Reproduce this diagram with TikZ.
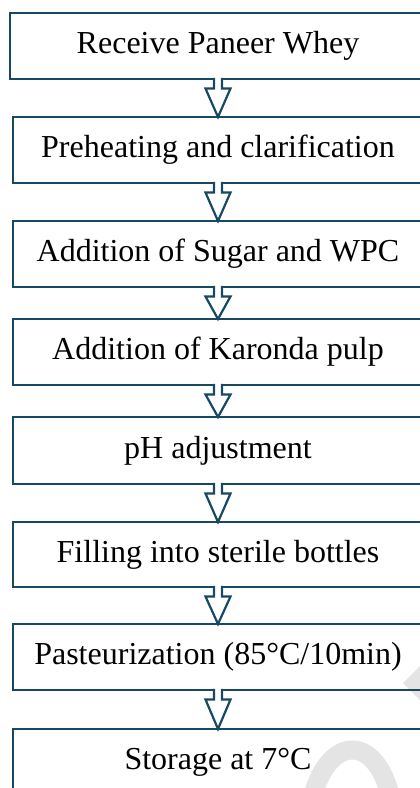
\documentclass[tikz,border=0pt]{standalone}
\usepackage{fontspec}
\setmainfont{Liberation Serif}
\definecolor{flowblue}{RGB}{24,73,99}
\definecolor{wmark}{RGB}{228,228,228}
\tikzset{
  stepbox/.style={draw=flowblue, line width=2.2pt, inner sep=0pt, outer sep=0pt,
    minimum width=410pt, minimum height=66pt,
    font=\fontsize{32}{36}\selectfont, text height=22.5pt, text depth=7.5pt},
  flowline/.style={draw=flowblue, line width=2.2pt, line join=miter}
}
\newcommand{\flowarrow}[2]{%
  \fill[white] ([xshift=-4pt,yshift=1.6pt]#1.south) rectangle ([xshift=4pt,yshift=-1.6pt]#1.south);
  \draw[flowline, fill=white]
    ([xshift=-4pt,yshift=1.1pt]#1.south) -- ([xshift=-4pt,yshift=-9.5pt]#1.south)
    -- ([xshift=-12.5pt,yshift=-9.5pt]#1.south) -- (#2.north)
    -- ([xshift=12.5pt,yshift=-9.5pt]#1.south) -- ([xshift=4pt,yshift=-9.5pt]#1.south)
    -- ([xshift=4pt,yshift=1.1pt]#1.south);
}
\begin{document}
\begin{tikzpicture}[x=1pt,y=-1pt]
\useasboundingbox (0,0) rectangle (420,788);
\clip (0,0) rectangle (420,788);
\fill[white] (0,0) rectangle (420,788);
% faint watermark fragments
\draw[wmark, line width=24pt] (411.5,691.5) -- (450,653);
\draw[wmark, line width=19pt] (313,795) .. controls (330,735) and (375,735) .. (390,795);
% boxes
\node[stepbox, minimum width=416pt] (b1) at (218,46) {Receive Paneer Whey};
\node[stepbox] (b2) at (218,150) {Preheating and clarification};
\node[stepbox] (b3) at (218,254) {Addition of Sugar and WPC};
\node[stepbox] (b4) at (218,352) {Addition of Karonda pulp};
\node[stepbox, minimum height=67pt] (b5) at (218,450.5) {pH adjustment};
\node[stepbox, minimum height=65pt] (b6) at (218,554.5) {Filling into sterile bottles};
\node[stepbox] (b7) at (218,657) {Pasteurization (85°C/10min)};
\node[stepbox] (b8) at (218,762) {Storage at 7°C};
% arrows
\flowarrow{b1}{b2}
\flowarrow{b2}{b3}
\flowarrow{b3}{b4}
\flowarrow{b4}{b5}
\flowarrow{b5}{b6}
\flowarrow{b6}{b7}
\flowarrow{b7}{b8}
\end{tikzpicture}
\end{document}
